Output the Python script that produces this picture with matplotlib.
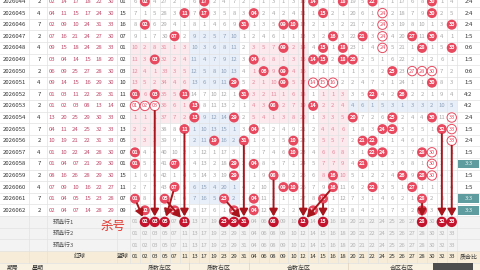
import matplotlib
matplotlib.use('Agg')
import matplotlib.pyplot as plt
from matplotlib.patches import Circle, Rectangle, FancyArrowPatch
import numpy as np

plt.rcParams['font.family'] = ['Noto Sans CJK SC', 'DejaVu Sans']

# ---------------- data ----------------
periods = ['2026044', '2026045', '2026046', '2026047', '2026048', '2026049', '2026050',
           '2026051', '2026052', '2026053', '2026054', '2026055', '2026056', '2026057',
           '2026058', '2026059', '2026060', '2026061', '2026062']
weekdays = [2, 4, 7, 2, 4, 7, 2, 4, 7, 2, 4, 7, 2, 4, 7, 2, 4, 7, 2]
red_balls = [
    [2, 14, 17, 18, 22, 30],
    [4, 11, 15, 17, 24, 30],
    [2, 9, 10, 24, 31, 33],
    [7, 16, 21, 24, 27, 30],
    [9, 15, 18, 24, 28, 33],
    [3, 4, 14, 15, 18, 20],
    [6, 9, 25, 27, 28, 30],
    [9, 14, 15, 16, 29, 30],
    [1, 3, 11, 22, 26, 31],
    [1, 2, 3, 8, 13, 14],
    [13, 20, 25, 29, 30, 33],
    [4, 11, 24, 25, 32, 33],
    [10, 19, 21, 22, 31, 33],
    [1, 10, 22, 24, 28, 30],
    [1, 4, 7, 21, 29, 30],
    [8, 16, 26, 28, 29, 30],
    [7, 9, 10, 16, 22, 27],
    [1, 4, 5, 15, 23, 28],
    [2, 4, 7, 14, 28, 29],
]
blue_balls = [1, 15, 16, 7, 1, 2, 3, 10, 11, 2, 2, 13, 5, 7, 1, 15, 11, 7, 9]

# column order of the trend area (prime left / prime right / composite left / composite right)
col_numbers = [1, 2, 3, 5, 7, 11, 13, 17, 19, 23, 29, 31,
               4, 6, 8, 9, 10, 12, 14, 15, 16, 18,
               20, 21, 22, 24, 25, 26, 27, 28, 30, 32, 33]
# omission shown in the first row (0 where the number was drawn)
omit_first = [6, 0, 4, 27, 2, 7, 6, 0, 2, 4, 7, 2,
              2, 1, 3, 1, 3, 10, 0, 3, 1, 0,
              19, 5, 0, 2, 1, 17, 6, 8, 0, 1, 4]
zone_names = ['质数左区', '质数右区', '合数左区', '合区右区']
zone_sizes = [6, 6, 10, 11]
preset_labels = ['预选行1', '预选行2', '预选行3']
kill_numbers = [2, 3, 5, 11, 23, 29, 31, 8, 12, 15, 28, 32, 33]
kill_label = '杀号'
# (start row index or None for top, start number, target kill number)
kill_arrows = [(17, 1, 2), (9, 3, 3), (16, 7, 5), (17, 5, 11), (11, 11, 11),
               (17, 23, 31), (12, 31, 31), (15, 8, 8), (None, 12, 12), (16, 16, 12),
               (17, 15, 15), (17, 28, 28), (11, 32, 32), (12, 33, 33)]
header_labels = {'red': '红球', 'blue': '蓝球', 'ratio': '质合比', 'period': '期号', 'week': '星期'}

# ---------------- layout / style ----------------
ROW0, RH = 1.5, 11.6
X_PERIOD, X_WEEK, X_RED0, RED_DX, X_BLUE = 14, 39, 52, 11.8, 123
X_NUM_LEFT, NUM_DX = 130, 9.9
X_RATIO = 468.5
R = 5.0
FS = 4.3
C_BALL = '#e8495f'
C_KILL = '#c4132d'
C_LINE = '#a8151c'
C_GRAY = '#a9a9a9'
C_PINK_BG, C_PINK_TX = '#fce9ed', '#e48c9e'
C_BLUE_BG, C_BLUE_TX = '#e8eff9', '#8fa2ba'
# shading blocks: (row_start, row_end, col_start, col_end, kind)
shade_blocks = [(4, 12, 0, 2, 'p'), (4, 10, 3, 5, 'p'), (4, 10, 12, 17, 'p'),
                (8, 15, 19, 21, 'p'), (3, 7, 6, 10, 'b'), (10, 12, 6, 10, 'b'),
                (9, 9, 22, 32, 'b'), (16, 17, 6, 10, 'b')]


def ry(i):
    return ROW0 + i * RH


def cx(j):
    return X_NUM_LEFT + NUM_DX * (j + 0.5)


n_rows = len(periods)
n_cols = len(col_numbers)
X_NUM_RIGHT = X_NUM_LEFT + NUM_DX * n_cols

# omission matrix
drawn = np.array([[num in rb for num in col_numbers] for rb in red_balls])
omit = np.zeros((n_rows, n_cols), int)
for i in range(n_rows):
    for j in range(n_cols):
        if drawn[i, j]:
            omit[i, j] = 0
        else:
            omit[i, j] = omit_first[j] if i == 0 else omit[i - 1, j] + 1

# hollow marks: runs of 3+ vertically or horizontally adjacent hits
hollow = np.zeros_like(drawn)
for j in range(n_cols):
    i = 0
    while i < n_rows:
        if drawn[i, j]:
            k = i
            while k < n_rows and drawn[k, j]:
                k += 1
            if k - i >= 3:
                hollow[i:k, j] = True
            i = k
        else:
            i += 1
for i in range(n_rows):
    j = 0
    while j < n_cols:
        if drawn[i, j]:
            k = j
            while k < n_cols and drawn[i, k]:
                k += 1
            if k - j >= 3:
                hollow[i, j:k] = True
            j = k
        else:
            j += 1

shade = np.full((n_rows, n_cols), '', dtype=object)
for r0, r1, c0, c1, kind in shade_blocks:
    shade[r0:r1 + 1, c0:c1 + 1] = kind

primes = set(col_numbers[:12])

fig = plt.figure(figsize=(4.8, 2.7), dpi=100)
ax = fig.add_axes([0, 0, 1, 1])
ax.set_xlim(0, 480)
ax.set_ylim(270, 0)
ax.axis('off')

# shading
for i in range(n_rows):
    for j in range(n_cols):
        if shade[i, j]:
            ax.add_patch(Rectangle((X_NUM_LEFT + NUM_DX * j, ry(i) - RH / 2), NUM_DX, RH,
                                   facecolor=C_PINK_BG if shade[i, j] == 'p' else C_BLUE_BG,
                                   edgecolor='none', zorder=0))

# preset rows, header rows backgrounds
for k in range(3):
    ax.add_patch(Rectangle((0, ry(n_rows + k) - RH / 2), 480, RH, facecolor='#f3f3f3',
                           edgecolor='none', zorder=0))
ax.add_patch(Rectangle((0, ry(n_rows + 3) - RH / 2), 480, RH, facecolor='#f6ecd7',
                       edgecolor='none', zorder=0))
ax.add_patch(Rectangle((0, ry(n_rows + 4) - RH / 2), 480, RH + 4, facecolor='#f9f2e3',
                       edgecolor='none', zorder=0))

# grid lines
total_rows = n_rows + 5
for i in range(total_rows + 1):
    y = ry(i) - RH / 2
    ax.plot([0, 480], [y, y], color='#e2e2e2', lw=0.5, zorder=1)
vlines = [29, 47, X_RED0 + RED_DX * 5.5, X_NUM_LEFT] + \
         [X_NUM_LEFT + NUM_DX * k for k in range(1, n_cols + 1)]
for x in vlines:
    ax.plot([x, x], [ry(0) - RH, ry(n_rows + 3) + RH / 2], color='#e2e2e2', lw=0.5, zorder=1)
# zone separators in bottom row
zx = X_NUM_LEFT
for zs in zone_sizes:
    zx += zs * NUM_DX
    ax.plot([zx, zx], [ry(n_rows + 4) - RH / 2, 270], color='#e0d6c0', lw=0.6, zorder=1)

# left columns
for i in range(n_rows):
    y = ry(i)
    ax.text(X_PERIOD, y, periods[i], fontsize=FS, color='#333333', ha='center', va='center', zorder=3)
    ax.text(X_WEEK, y, str(weekdays[i]), fontsize=FS, color='#333333', ha='center', va='center', zorder=3)
    for k, b in enumerate(red_balls[i]):
        ax.text(X_RED0 + RED_DX * k, y, f'{b:02d}', fontsize=FS, color='#c14d6d',
                ha='center', va='center', zorder=3)
    ax.text(X_BLUE, y, f'{blue_balls[i]:02d}', fontsize=FS, color='#333333',
            ha='center', va='center', zorder=3)

# trend cells
for i in range(n_rows):
    y = ry(i)
    for j in range(n_cols):
        x = cx(j)
        if drawn[i, j]:
            if hollow[i, j]:
                ax.add_patch(Circle((x, y), R - 0.3, facecolor='white', edgecolor=C_BALL, lw=0.7, zorder=4))
                ax.text(x, y, f'{col_numbers[j]:02d}', fontsize=FS - 0.3, color=C_BALL,
                        ha='center', va='center', zorder=5)
            else:
                ax.add_patch(Circle((x, y), R, facecolor=C_BALL, edgecolor='none', zorder=4))
                ax.text(x, y, f'{col_numbers[j]:02d}', fontsize=FS - 0.3, color='white',
                        fontweight='bold', ha='center', va='center', zorder=5)
        else:
            tc = C_GRAY
            if shade[i, j] == 'p':
                tc = C_PINK_TX
            elif shade[i, j] == 'b':
                tc = C_BLUE_TX
            ax.text(x, y, str(omit[i, j]), fontsize=FS, color=tc, ha='center', va='center', zorder=3)
    p = sum(1 for b in red_balls[i] if b in primes)
    ratio = f'{p}:{6 - p}'
    if p == 3:
        ax.add_patch(Rectangle((X_NUM_RIGHT + 1.5, y - RH / 2 + 1.5), 480 - X_NUM_RIGHT - 3, RH - 3,
                               facecolor='#5e9c9f', edgecolor='none', zorder=2))
        ax.text(X_RATIO, y, ratio, fontsize=FS, color='#e6f3f3', ha='center', va='center', zorder=3)
    else:
        ax.text(X_RATIO, y, ratio, fontsize=FS, color='#333333', ha='center', va='center', zorder=3)

# preset rows
for k, lab in enumerate(preset_labels):
    y = ry(n_rows + k)
    ax.text(63, y, lab, fontsize=FS, color='#555555', ha='center', va='center', zorder=3)
    for j, num in enumerate(col_numbers):
        x = cx(j)
        if k == 0 and num in kill_numbers:
            ax.add_patch(Circle((x, y), R + 0.2, facecolor=C_KILL, edgecolor='none', zorder=6))
            ax.text(x, y, f'{num:02d}', fontsize=FS - 0.3, color='white', fontweight='bold',
                    ha='center', va='center', zorder=7)
        else:
            ax.text(x, y, f'{num:02d}', fontsize=FS, color='#b4b4b4', ha='center', va='center', zorder=3)
ax.text(113, ry(n_rows) + 4.5, kill_label, fontsize=9, color='#e2352e', ha='center', va='center', zorder=7)

# header row
yh = ry(n_rows + 3)
ax.text(80, yh, header_labels['red'], fontsize=FS, color='#333333', ha='center', va='center', zorder=3)
ax.text(X_BLUE, yh, header_labels['blue'], fontsize=FS, color='#333333', ha='center', va='center', zorder=3)
for j, num in enumerate(col_numbers):
    ax.text(cx(j), yh, f'{num:02d}', fontsize=FS, color='#333333', ha='center', va='center', zorder=3)
ax.text(X_RATIO, yh, header_labels['ratio'], fontsize=FS, color='#333333', ha='center', va='center', zorder=3)

# bottom row
yb = ry(n_rows + 4)
ax.text(13, yb, header_labels['period'], fontsize=FS, color='#333333', ha='center', va='center', zorder=3)
ax.text(38, yb, header_labels['week'], fontsize=FS, color='#333333', ha='center', va='center', zorder=3)
zx = X_NUM_LEFT
for name, zs in zip(zone_names, zone_sizes):
    ax.text(zx + zs * NUM_DX / 2, yb, name, fontsize=FS, color='#333333', ha='center', va='center', zorder=3)
    zx += zs * NUM_DX
ax.add_patch(Rectangle((433, yb - 5), 40, 12, facecolor='#4d4d4d', edgecolor='none', zorder=3))

# kill arrows
yk = ry(n_rows)
for r, num_from, num_to in kill_arrows:
    j0 = col_numbers.index(num_from)
    j1 = col_numbers.index(num_to)
    x0 = cx(j0)
    x1 = cx(j1)
    y0 = -6 if r is None else ry(r)
    dx, dy = x1 - x0, yk - y0
    L = np.hypot(dx, dy)
    ux, uy = dx / L, dy / L
    start = (x0 + ux * (0 if r is None else R), y0 + uy * (0 if r is None else R))
    end = (x1 - ux * (R + 0.5), yk - uy * (R + 0.5))
    arr = FancyArrowPatch(start, end, arrowstyle='-|>,head_length=4.2,head_width=2.4',
                          color=C_LINE, lw=1.4, mutation_scale=1, zorder=8,
                          shrinkA=0, shrinkB=0)
    ax.add_patch(arr)

fig.savefig('out.png', dpi=100)
